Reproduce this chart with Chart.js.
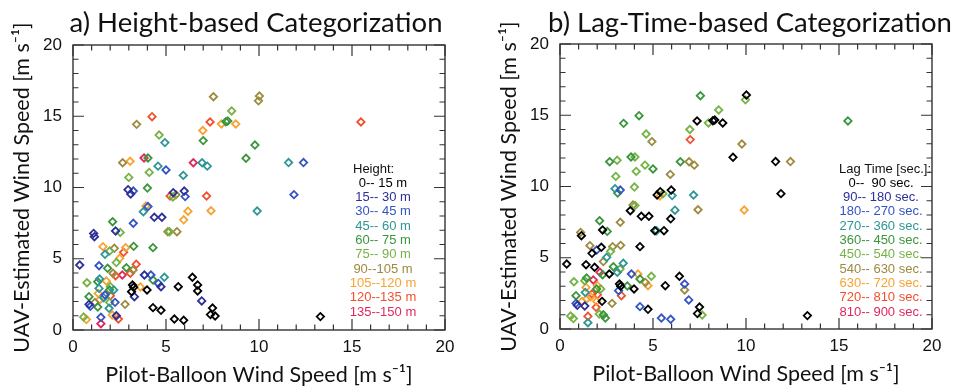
<!DOCTYPE html>
<html>
<head>
<meta charset="utf-8">
<script src="https://cdn.jsdelivr.net/npm/chart.js@4.4.0/dist/chart.umd.min.js"></script>
<style>
  html, body { margin: 0; padding: 0; background: #fff; }
  #wrap { position: relative; width: 960px; height: 390px; }
  .panel { position: absolute; top: 0; width: 480px; height: 390px; }
</style>
</head>
<body>
<div id="wrap">
  <div class="panel" style="left:0"><canvas id="chartA" width="480" height="390"></canvas></div>
  <div class="panel" style="left:480px"><canvas id="chartB" width="480" height="390"></canvas></div>
</div>
<script>
// pilot-balloon speed (x) and UAV-estimated speed (y), one entry per profile point
const pilotSpeed = [7.55, 10.02, 9.97, 4.25, 3.42, 8.53, 7.37, 7.98, 8.22, 8.32, 8.75, 6.98, 4.63, 4.94, 7.0, 9.78, 9.3,
  2.67, 3.07, 3.82, 4.03, 4.57, 5.0, 4.1, 3.0, 6.47, 6.94, 7.22, 5.93, 11.59, 12.39, 4.0, 2.96, 3.1, 3.24,
  5.22, 5.39, 5.37, 5.53, 5.98, 6.03, 7.18, 11.88, 9.9, 7.42, 6.18, 5.95, 3.92, 4.03, 3.78, 4.37, 4.78,
  2.13, 3.24, 2.29, 2.54, 1.11, 1.15, 5.1, 5.19, 5.59, 1.61, 2.22, 1.97, 1.72, 2.83, 3.26, 4.3, 2.72, 2.51,
  2.33, 0.36, 1.4, 1.86, 2.87, 3.4, 3.23, 2.15, 2.29, 2.65, 3.08, 3.84, 4.19, 4.3, 4.91, 4.59, 4.73,
  0.75, 1.33, 1.43, 1.79, 1.4, 2.01, 1.97, 2.19, 0.86, 1.36, 1.72, 1.65, 1.43, 2.01, 0.86, 0.93, 1.18,
  1.33, 1.97, 2.26, 2.8, 1.94, 3.2, 3.26, 3.15, 3.3, 3.62, 3.98, 5.66, 6.42, 6.7, 6.7, 6.92, 4.3, 4.73,
  5.45, 5.95, 0.57, 0.72, 1.5, 1.5, 2.11, 2.33, 2.44, 7.5, 7.39, 7.64, 13.3, 15.48];
const uavSpeed = [16.37, 16.42, 16.08, 14.97, 14.43, 15.37, 14.6, 14.46, 14.62, 14.66, 14.46, 14.0, 13.68, 13.15, 13.29, 12.98, 12.05,
  11.74, 11.84, 12.07, 12.07, 11.5, 11.23, 11.06, 10.71, 11.74, 11.74, 11.5, 10.85, 11.75, 11.75, 9.96, 9.85, 9.54, 9.75,
  9.4, 9.64, 9.33, 9.49, 9.75, 9.36, 9.4, 9.5, 8.35, 8.37, 8.34, 7.73, 8.7, 8.66, 8.3, 7.91, 7.91,
  7.6, 7.49, 6.95, 6.85, 6.78, 6.55, 6.9, 6.9, 6.9, 5.85, 5.73, 5.54, 5.31, 5.78, 5.87, 5.78, 5.45, 5.03,
  4.73, 4.56, 4.51, 4.33, 4.37, 4.61, 4.21, 3.98, 3.81, 3.86, 3.98, 3.86, 3.86, 3.51, 3.7, 3.27, 3.04,
  3.32, 3.39, 3.58, 3.44, 2.92, 3.04, 2.81, 2.81, 2.34, 2.57, 2.46, 2.27, 2.11, 2.41, 1.8, 1.66, 1.94,
  1.61, 1.94, 1.94, 1.8, 1.52, 3.16, 3.0, 2.69, 2.34, 3.02, 2.81, 3.04, 3.7, 3.16, 2.74, 2.04, 1.57, 1.38,
  0.77, 0.68, 0.91, 0.73, 0.89, 0.44, 1.05, 1.0, 0.77, 1.54, 1.08, 0.98, 0.94, 14.6];
// class index of each point (0..9) for the two categorizations
const heightBin = [6, 6, 6, 8, 6, 5, 8, 7, 4, 4, 7, 7, 5, 3, 4, 4, 4,
  6, 7, 9, 4, 3, 2, 5, 5, 9, 3, 3, 3, 3, 2, 4, 1, 1, 2,
  8, 1, 5, 6, 1, 2, 8, 2, 3, 7, 7, 7, 7, 2, 3, 1, 1,
  4, 2, 1, 5, 1, 1, 6, 5, 6, 7, 6, 5, 3, 7, 4, 4, 8, 7,
  5, 1, 2, 4, 4, 8, 6, 6, 8, 9, 8, 1, 2, 4, 3, 2, 1,
  5, 4, 3, 7, 3, 5, 4, 3, 4, 7, 2, 3, 7, 8, 1, 2, 6,
  4, 5, 2, 6, 3, 0, 0, 0, 1, 7, 0, 0, 0, 0, 0, 1, 0, 0,
  0, 0, 5, 7, 2, 9, 7, 1, 8, 0, 0, 0, 0, 8];
const lagBin = [4, 0, 5, 4, 4, 5, 0, 5, 0, 0, 0, 5, 5, 6, 8, 6, 0,
  4, 5, 4, 5, 5, 4, 5, 5, 4, 6, 6, 6, 0, 6, 5, 3, 4, 2,
  0, 0, 7, 5, 0, 3, 3, 0, 7, 6, 3, 0, 6, 5, 0, 0, 0,
  4, 6, 0, 4, 6, 0, 0, 3, 0, 6, 0, 2, 0, 6, 6, 0, 5, 3,
  6, 0, 0, 0, 4, 3, 5, 9, 4, 0, 3, 2, 7, 4, 5, 6, 7,
  5, 5, 4, 9, 7, 7, 4, 5, 4, 3, 8, 7, 7, 8, 2, 1, 7,
  1, 7, 0, 6, 8, 0, 0, 2, 8, 4, 0, 0, 0, 2, 6, 2, 2, 0,
  2, 2, 5, 5, 8, 3, 5, 4, 4, 0, 0, 5, 0, 4];

const heightLabels = ["0-- 15 m", "15-- 30 m", "30-- 45 m", "45-- 60 m", "60-- 75 m",
  "75-- 90 m", "90--105 m", "105--120 m", "120--135 m", "135--150 m"];
const lagLabels = ["0--  90 sec.", "90-- 180 sec.", "180-- 270 sec.", "270-- 360 sec.", "360-- 450 sec.",
  "450-- 540 sec.", "540-- 630 sec.", "630-- 720 sec.", "720-- 810 sec.", "810-- 900 sec."];
const binColors = ["#000000", "#2c2f98", "#3454c4", "#2e9696", "#3a963c",
  "#76b346", "#9c8a3e", "#f8a232", "#f2502c", "#e0285c"];

function makeDatasets(bins) {
  return binColors.map((c, k) => ({
    data: pilotSpeed.map((x, i) => ({ x: x, y: uavSpeed[i] })).filter((p, i) => bins[i] === k),
    pointStyle: "rectRot",
    pointRadius: 3.7,
    pointBorderWidth: 1.8,
    borderColor: c,
    backgroundColor: "rgba(0,0,0,0)",
    showLine: false
  }));
}

// box with inward ticks on all four sides, panel title and class key
const framePlugin = {
  id: "frame",
  afterDatasetsDraw(chart, args, o) {
    const { ctx, chartArea: a, scales: { x, y } } = chart;
    ctx.save();
    ctx.strokeStyle = "#333";
    ctx.lineWidth = 1.4;
    ctx.strokeRect(a.left, a.top, a.right - a.left, a.bottom - a.top);
    ctx.lineWidth = 1.2;
    ctx.beginPath();
    for (let v = 0; v <= 20; v++) {
      const len = v % 5 === 0 ? 11 : 5.5;
      const px = x.getPixelForValue(v), py = y.getPixelForValue(v);
      ctx.moveTo(px, a.bottom); ctx.lineTo(px, a.bottom - len);
      ctx.moveTo(px, a.top); ctx.lineTo(px, a.top + len);
      ctx.moveTo(a.left, py); ctx.lineTo(a.left + len, py);
      ctx.moveTo(a.right, py); ctx.lineTo(a.right - len, py);
    }
    ctx.stroke();

    ctx.fillStyle = "#111";
    ctx.font = "27.5px Lato";
    ctx.textAlign = "center";
    ctx.textBaseline = "middle";
    ctx.fillText(o.title, (a.left + a.right) / 2 + o.titleShift, 23);

    ctx.font = "13px 'Liberation Sans'";
    ctx.textAlign = "left";
    ctx.fillText(o.head, o.headX, o.headY);
    ctx.textAlign = "center";
    o.labels.forEach((t, i) => {
      ctx.fillStyle = binColors[i];
      ctx.fillText(t, o.keyX, o.headY + 14.3 * (i + 1));
    });
    ctx.restore();
  }
};

function makeChart(id, bins, pad, frame) {
  return new Chart(document.getElementById(id), {
    type: "scatter",
    data: { datasets: makeDatasets(bins) },
    options: {
      responsive: false,
      animation: false,
      layout: { padding: pad },
      plugins: { legend: { display: false }, tooltip: { enabled: false }, frame: frame },
      scales: {
        x: {
          type: "linear", min: 0, max: 20,
          ticks: { stepSize: 5, padding: 7, color: "#111", font: { family: "Liberation Sans", size: 17 } },
          grid: { display: false, drawTicks: false },
          border: { display: false },
          title: { display: true, text: "Pilot-Balloon Wind Speed [m s\u207B\u00B9]", color: "#111",
            font: { family: "Lato", size: 21.5 }, padding: { top: 0, bottom: 2 } },
          afterFit(s) { s.height = 60; }
        },
        y: {
          type: "linear", min: 0, max: 20,
          ticks: { stepSize: 5, padding: 11, color: "#111", font: { family: "Liberation Sans", size: 17 } },
          grid: { display: false, drawTicks: false },
          border: { display: false },
          title: { display: true, text: "UAV-Estimated Wind Speed [m s\u207B\u00B9]", color: "#111",
            font: { family: "Lato", size: 21.5 }, padding: { top: 9, bottom: 0 } },
          afterFit(s) { s.width = 73; }
        }
      }
    },
    plugins: [framePlugin]
  });
}

makeChart("chartA", heightBin, { left: 0, top: 45, right: 35, bottom: 0 }, {
  title: "a) Height-based Categorization", titleShift: -3,
  head: "Height:", headX: 353, headY: 169, keyX: 383, labels: heightLabels
});
makeChart("chartB", lagBin, { left: 7, top: 44, right: 28, bottom: 1 }, {
  title: "b) Lag-Time-based Categorization", titleShift: 4,
  head: "Lag Time [sec.]:", headX: 359, headY: 169, keyX: 401, labels: lagLabels
});
</script>
</body>
</html>
